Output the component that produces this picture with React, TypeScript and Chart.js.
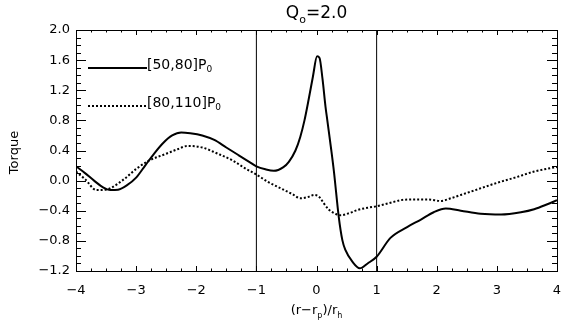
import React, { useEffect, useRef } from "react";
import { Chart, registerables } from "chart.js";

Chart.register(...registerables);

const titleMain = "Q";
const titleSub = "o";
const titleRest = "=2.0";
const yAxisTitle = "Torque";

const xTickValues = [-4, -3, -2, -1, 0, 1, 2, 3, 4];
const xTickLabels = ["−4", "−3", "−2", "−1", "0", "1", "2", "3", "4"];
const yTickValues = [-1.2, -0.8, -0.4, 0.0, 0.4, 0.8, 1.2, 1.6, 2.0];
const yTickLabels = ["−1.2", "−0.8", "−0.4", "0.0", "0.4", "0.8", "1.2", "1.6", "2.0"];

const xMin = -4;
const xMax = 4;
const yMin = -1.2;
const yMax = 2.0;
const xMinorStep = 0.25;
const yMinorStep = 0.1;

const markerLinesX = [-1, 1];

const seriesANames = ["[50,80]P", "0"];
const seriesAX = [
  -4.0, -3.85, -3.7, -3.55, -3.43, -3.3, -3.15, -3.0, -2.85, -2.7, -2.55, -2.4, -2.25, -2.1, -1.9,
  -1.7, -1.5, -1.3, -1.1, -1.0, -0.85, -0.71, -0.55, -0.46, -0.35, -0.27, -0.2, -0.13, -0.06,
  0.01, 0.05, 0.1, 0.15, 0.18, 0.245, 0.29, 0.37, 0.43, 0.48, 0.6, 0.72, 0.85, 1.0, 1.23, 1.5, 1.73,
  1.95, 2.15, 2.4, 2.73, 3.07, 3.4, 3.62, 3.85, 4.0,
];
const seriesAY = [
  0.19, 0.1, 0.0, -0.09, -0.125, -0.12, -0.06, 0.04, 0.2, 0.36, 0.5, 0.6, 0.64, 0.63, 0.6,
  0.54, 0.44, 0.34, 0.24, 0.19, 0.15, 0.13, 0.18, 0.25, 0.4, 0.58, 0.8, 1.08, 1.38,
  1.65, 1.63, 1.35, 0.98, 0.8, 0.41, 0.12, -0.48, -0.79, -0.92, -1.08, -1.165, -1.1, -1.01, -0.76, -0.62, -0.52,
  -0.42, -0.37, -0.4, -0.44, -0.45, -0.42, -0.38, -0.31, -0.26,
];

const seriesBNames = ["[80,110]P", "0"];
const seriesBX = [
  -4.0, -3.85, -3.66, -3.5, -3.38, -3.2, -2.99, -2.8, -2.49, -2.3, -2.15, -1.9, -1.65, -1.4, -1.2,
  -1.0, -0.8, -0.55, -0.4, -0.27, -0.15, -0.04, 0.05, 0.12, 0.2, 0.29, 0.4, 0.55, 0.68, 0.85, 1.0,
  1.2, 1.4, 1.57, 1.85, 2.07, 2.25, 2.4, 2.7, 3.0, 3.3, 3.62, 3.85, 4.0,
];
const seriesBY = [
  0.12, 0.02, -0.125, -0.12, -0.08, 0.02, 0.16, 0.26, 0.36, 0.42, 0.46, 0.44, 0.36, 0.27, 0.17,
  0.08, -0.02, -0.12, -0.18, -0.235, -0.22, -0.19, -0.22, -0.3, -0.38, -0.43, -0.46, -0.43, -0.39, -0.36, -0.34,
  -0.3, -0.26, -0.25, -0.25, -0.27, -0.23, -0.19, -0.11, -0.03, 0.04, 0.12, 0.16, 0.18,
];

const FONT = "'DejaVu Sans', sans-serif";

function drawSubText(
  ctx: CanvasRenderingContext2D,
  parts: { t: string; sub?: boolean }[],
  x: number,
  y: number,
  size: number,
  align: "left" | "center"
) {
  const subSize = Math.round(size * 0.62);
  let total = 0;
  const widths = parts.map((p) => {
    ctx.font = `${p.sub ? subSize : size}px ${FONT}`;
    const w = ctx.measureText(p.t).width;
    total += w;
    return w;
  });
  let cx = align === "center" ? x - total / 2 : x;
  ctx.textAlign = "left";
  ctx.textBaseline = "middle";
  parts.forEach((p, i) => {
    ctx.font = `${p.sub ? subSize : size}px ${FONT}`;
    ctx.fillText(p.t, cx, p.sub ? y + size * 0.35 : y);
    cx += widths[i];
  });
}

const framePlugin = {
  id: "idlFrame",
  afterDraw(chart: any) {
    const ctx: CanvasRenderingContext2D = chart.ctx;
    const { left, right, top, bottom } = chart.chartArea;
    const xs = chart.scales.x;
    const ys = chart.scales.y;
    ctx.save();
    ctx.strokeStyle = "#000";
    ctx.fillStyle = "#000";
    ctx.lineWidth = 1;
    ctx.strokeRect(Math.round(left) + 0.5, Math.round(top) + 0.5, Math.round(right - left), Math.round(bottom - top));

    const nx = Math.round((xMax - xMin) / xMinorStep);
    for (let i = 0; i <= nx; i++) {
      const v = xMin + i * xMinorStep;
      const major = Math.abs(v - Math.round(v)) < 1e-6;
      const len = major ? 5 : 2.5;
      const px = Math.round(xs.getPixelForValue(v)) + 0.5;
      ctx.beginPath();
      ctx.moveTo(px, bottom);
      ctx.lineTo(px, bottom - len);
      ctx.moveTo(px, top);
      ctx.lineTo(px, top + len);
      ctx.stroke();
    }
    const ny = Math.round((yMax - yMin) / yMinorStep);
    for (let i = 0; i <= ny; i++) {
      const v = yMin + i * yMinorStep;
      const major = i % 4 === 0;
      const len = major ? 10 : 5;
      const py = Math.round(ys.getPixelForValue(v)) + 0.5;
      ctx.beginPath();
      ctx.moveTo(left, py);
      ctx.lineTo(left + len, py);
      ctx.moveTo(right, py);
      ctx.lineTo(right - len, py);
      ctx.stroke();
    }

    ctx.font = `13px ${FONT}`;
    ctx.textBaseline = "middle";
    ctx.textAlign = "right";
    yTickValues.forEach((v, i) => {
      ctx.fillText(yTickLabels[i], left - 6, ys.getPixelForValue(v));
    });
    ctx.textAlign = "center";
    xTickValues.forEach((v, i) => {
      ctx.fillText(xTickLabels[i], xs.getPixelForValue(v), bottom + 20);
    });

    const cxMid = (left + right) / 2;
    drawSubText(
      ctx,
      [{ t: "(r−r" }, { t: "p", sub: true }, { t: ")/r" }, { t: "h", sub: true }],
      cxMid,
      bottom + 40,
      13,
      "center"
    );
    ctx.save();
    ctx.translate(15, (top + bottom) / 2 + 2);
    ctx.rotate(-Math.PI / 2);
    ctx.font = `13px ${FONT}`;
    ctx.textAlign = "center";
    ctx.textBaseline = "middle";
    ctx.fillText(yAxisTitle, 0, 0);
    ctx.restore();

    drawSubText(
      ctx,
      [{ t: titleMain }, { t: titleSub, sub: true }, { t: titleRest }],
      cxMid,
      top - 16,
      17,
      "center"
    );

    const lx0 = left + 12;
    const lx1 = left + 71;
    const ly1 = top + 38;
    const ly2 = top + 76;
    ctx.lineWidth = 2;
    ctx.beginPath();
    ctx.moveTo(lx0, ly1);
    ctx.lineTo(lx1, ly1);
    ctx.stroke();
    ctx.setLineDash([2, 2]);
    ctx.beginPath();
    ctx.moveTo(lx0, ly2);
    ctx.lineTo(lx1, ly2);
    ctx.stroke();
    ctx.setLineDash([]);
    drawSubText(ctx, [{ t: seriesANames[0] }, { t: seriesANames[1], sub: true }], lx1, ly1 - 3, 14, "left");
    drawSubText(ctx, [{ t: seriesBNames[0] }, { t: seriesBNames[1], sub: true }], lx1, ly2 - 3, 14, "left");
    ctx.restore();
  },
};

export default function App() {
  const canvasRef = useRef<HTMLCanvasElement | null>(null);

  useEffect(() => {
    if (!canvasRef.current) return;
    const toPts = (xs: number[], ys: number[]) => xs.map((x, i) => ({ x, y: ys[i] }));
    const vlines = markerLinesX.map((x) => ({
      data: [
        { x, y: yMin },
        { x, y: yMax },
      ],
      borderColor: "#000",
      borderWidth: 1,
      pointRadius: 0,
      tension: 0,
    }));
    const chart = new Chart(canvasRef.current, {
      type: "line",
      data: {
        datasets: [
          {
            data: toPts(seriesAX, seriesAY),
            borderColor: "#000",
            borderWidth: 2,
            pointRadius: 0,
            cubicInterpolationMode: "monotone",
          },
          {
            data: toPts(seriesBX, seriesBY),
            borderColor: "#000",
            borderWidth: 2,
            borderDash: [2, 2],
            pointRadius: 0,
            cubicInterpolationMode: "monotone",
          },
          ...vlines,
        ] as any,
      },
      options: {
        animation: false,
        responsive: false,
        events: [],
        layout: { padding: { left: 76, right: 19, top: 30, bottom: 53 } },
        plugins: { legend: { display: false }, tooltip: { enabled: false }, title: { display: false } },
        scales: {
          x: { type: "linear", min: xMin, max: xMax, display: false },
          y: { type: "linear", min: yMin, max: yMax, display: false },
        },
      },
      plugins: [framePlugin],
    });
    return () => chart.destroy();
  }, []);

  return (
    <div style={{ position: "fixed", left: 0, top: 0, width: 576, height: 324, background: "#fff" }}>
      <canvas ref={canvasRef} width={576} height={324} />
    </div>
  );
}
